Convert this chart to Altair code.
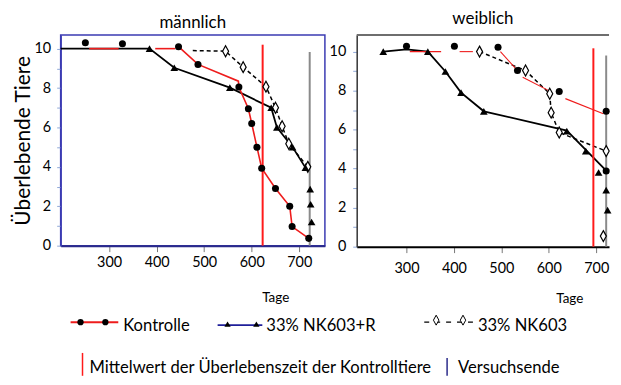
import altair as alt
import pandas as pd

FONT = "Lato"

# ---------------- data: männlich ----------------
m_ctrl_x = [250, 328, 446, 487, 573, 593, 600, 611, 621, 650, 680, 685, 720]
m_ctrl_y = [10.3, 10.25, 10.1, 9.2, 8.05, 6.95, 6.2, 5.0, 3.93, 2.9, 2.0, 0.97, 0.37]
m_ctrl_line_x = [258, 320, 397, 439, 446, 487, 572, 573, 593, 600, 611, 621, 650, 680, 685, 720]
m_ctrl_line_y = [10, 10, 10, 10, 10.1, 9.2, 8.35, 8.05, 6.95, 6.2, 5.0, 3.93, 2.9, 2.0, 0.97, 0.37]
m_ctrl_line_seg = [1, 1, 2, 2, 3, 3, 3, 3, 3, 3, 3, 3, 3, 3, 3, 3]

m_r_x = [385, 437, 554, 641, 653, 686, 713, 723, 724, 726]
m_r_y = [10.0, 9.03, 8.02, 7.0, 6.0, 5.0, 3.96, 2.87, 2.1, 1.2]
m_r_line_x = [198, 385, 437, 554, 641, 653, 686, 713]
m_r_line_y = [10, 10, 9.03, 8.02, 7.0, 6.0, 5.0, 3.96]

m_nk_x = [545, 582, 630, 650, 664, 678, 718]
m_nk_y = [9.87, 9.06, 8.07, 7.0, 6.06, 5.17, 4.0]
m_nk_line_x = [476, 545, 582, 630, 650, 664, 678, 718]
m_nk_line_y = [9.9, 9.87, 9.06, 8.07, 7.0, 6.06, 5.17, 4.0]

m_mean_x, m_mean_top = 623, 10.2
m_end_x, m_end_top = 722, 9.83

# ---------------- data: weiblich ----------------
w_ctrl_x = [300, 401, 493, 534, 622, 721, 721]
w_ctrl_y = [10.27, 10.27, 10.22, 9.03, 7.96, 6.94, 3.88]
w_ctrl_line_x = [307, 373, 412, 440, 498, 534, 545, 600, 635, 715]
w_ctrl_line_y = [10, 10, 10, 10, 10, 9.03, 8.69, 8.0, 7.59, 6.82]
w_ctrl_line_seg = [1, 1, 2, 2, 3, 3, 4, 4, 5, 5]

w_r_x = [251, 345, 382, 415, 463, 638, 678, 705, 721, 724]
w_r_y = [10.0, 10.0, 8.98, 7.9, 6.94, 5.92, 4.9, 3.8, 2.9, 1.87]
w_r_line_x = [251, 300, 345, 382, 415, 463, 638, 721]
w_r_line_y = [10, 10.12, 10, 8.98, 7.9, 6.94, 5.95, 3.9]

w_nk_x = [454, 551, 602, 605, 622, 721, 715]
w_nk_y = [10.0, 9.03, 7.84, 6.87, 5.85, 4.9, 0.54]
w_nk_line_x = [454, 551, 602, 605, 622, 721]
w_nk_line_y = [10.0, 9.03, 7.84, 6.87, 5.85, 4.9]

w_mean_x, w_mean_top = 694, 10.17
w_end_x, w_end_top = 721, 9.8

x_ticks = [300, 400, 500, 600, 700]
y_ticks = list(range(0, 11))

series_labels = ["Kontrolle", "33% NK603+R", "33% NK603"]
ref_labels = ["Mittelwert der Überlebenszeit der Kontrolltiere", "Versuchsende"]

DIAMOND = "M0,-1L0.55,0L0,1L-0.55,0Z"


def line_df(xs, ys, seg=None):
    return pd.DataFrame({"x": xs, "y": ys, "i": list(range(len(xs))),
                         "seg": seg if seg is not None else [1] * len(xs)})


def pts_df(xs, ys):
    return pd.DataFrame({"x": xs, "y": ys})


def panel(title, title_offset, ctrl, ctrl_line, r, r_line, nk, nk_line,
          mean, end, xdom, ydom, w, h, left):
    dom_col = "#2a2a8a" if left else "#000000"
    ydom_col = "#3b3bb3" if left else "#333333"
    xs = alt.Scale(domain=xdom, nice=False, zero=False)
    ys = alt.Scale(domain=ydom, nice=False, zero=False)
    xax = alt.Axis(values=x_ticks, tickSize=6, tickColor="#777777", labelPadding=4 if left else 9,
                   domainColor=dom_col, domainWidth=2, grid=False, labelFontSize=14.5,
                   labelFont=FONT, labelColor="#000", title="Tage", titleFont=FONT,
                   titleFontSize=13.5, titleFontWeight="normal", titleX=216 if left else 214,
                   titleY=52, titleBaseline="middle", titleColor="#000")
    yax = alt.Axis(values=y_ticks, tickSize=4, tickColor="#8fa8d8", labelPadding=6 if left else 7,
                   labelExpr="datum.value % 2 == 0 ? datum.label : ''",
                   domainColor=ydom_col, domainWidth=1.5, grid=False, labelFontSize=14.5,
                   labelFont=FONT, labelColor="#000",
                   title="Überlebende Tiere" if left else None, titleFont=FONT,
                   titleFontSize=21, titleFontWeight="normal", titlePadding=1, titleColor="#000")
    X = alt.X("x:Q", scale=xs, axis=xax)
    Y = alt.Y("y:Q", scale=ys, axis=yax)

    layers = []
    if not left:
        frame = pd.DataFrame({"x": [xdom[0]], "x2": [xdom[1]]})
        layers.append(alt.Chart(frame).mark_rule(color="#6e6e6e", strokeWidth=2)
                      .encode(x=X, x2="x2:Q", y=alt.value(0)))
    layers.append(alt.Chart(r_line).mark_line(color="black", strokeWidth=1.8)
                  .encode(x=X, y=Y, order="i:Q"))
    layers.append(alt.Chart(nk_line).mark_line(color="black", strokeWidth=1.5, strokeDash=[4, 3])
                  .encode(x=X, y=Y, order="i:Q"))
    layers.append(alt.Chart(ctrl_line).mark_line(color="#ee1c1c", strokeWidth=1.6 if left else 1.1)
                  .encode(x=X, y=Y, detail="seg:N", order="i:Q"))
    rules = pd.DataFrame({"x": [mean[0], end[0]], "y": [mean[1], end[1]], "y0": [0, 0],
                          "k": ["mean", "end"]})
    layers.append(alt.Chart(rules).mark_rule(strokeWidth=2).encode(
        x=X, y=Y, y2="y0:Q",
        color=alt.Color("k:N", scale=alt.Scale(domain=["mean", "end"], range=["#ff1a1a", "#8a8a8a"]),
                        legend=None),
        strokeWidth=alt.StrokeWidth("k:N", scale=alt.Scale(domain=["mean", "end"], range=[2, 1.5]),
                                    legend=None)))
    layers.append(alt.Chart(nk).mark_point(shape=DIAMOND, size=121, fill="white", stroke="black",
                                           strokeWidth=1.2, opacity=1, fillOpacity=1)
                  .encode(x=X, y=Y))
    layers.append(alt.Chart(r).mark_point(shape="triangle-up", size=60, filled=True, color="black",
                                          opacity=1).encode(x=X, y=Y))
    layers.append(alt.Chart(ctrl).mark_point(shape="circle", size=50, filled=True, color="black",
                                             opacity=1).encode(x=X, y=Y))
    view = alt.ViewBackground(stroke="#3b3bb3", strokeWidth=1.5) if left else \
        alt.ViewBackground(stroke="transparent")
    return alt.layer(*layers).properties(
        width=w, height=h, view=view,
        title=alt.TitleParams(title, font=FONT, fontSize=17, fontWeight="normal", color="#000",
                              offset=title_offset))


left = panel("männlich", 3,
             pts_df(m_ctrl_x, m_ctrl_y), line_df(m_ctrl_line_x, m_ctrl_line_y, m_ctrl_line_seg),
             pts_df(m_r_x, m_r_y), line_df(m_r_line_x, m_r_line_y),
             pts_df(m_nk_x, m_nk_y), line_df(m_nk_line_x, m_nk_line_y),
             (m_mean_x, m_mean_top), (m_end_x, m_end_top),
             [198, 754], [0, 10.69], 266, 212, True)
right = panel("weiblich", 6,
              pts_df(w_ctrl_x, w_ctrl_y), line_df(w_ctrl_line_x, w_ctrl_line_y, w_ctrl_line_seg),
              pts_df(w_r_x, w_r_y), line_df(w_r_line_x, w_r_line_y),
              pts_df(w_nk_x, w_nk_y), line_df(w_nk_line_x, w_nk_line_y),
              (w_mean_x, w_mean_top), (w_end_x, w_end_top),
              [195, 727], [0, 10.85], 254, 213, False)

# ---------------- custom legend (layout in page pixels) ----------------
OX, OY = 60, 306   # page position of legend chart origin (aligned with left plot)
LW, LH = 545, 70


def lx(v):
    return [a - OX for a in v]


def ly(v):
    return [a - OY for a in v]


LX = alt.Scale(domain=[0, LW], nice=False, zero=False)
LY = alt.Scale(domain=[0, LH], nice=False, zero=False, reverse=True)


def ex(f="x"):
    return alt.X(f + ":Q", scale=LX, axis=None)


def ey(f="y"):
    return alt.Y(f + ":Q", scale=LY, axis=None)


leg_red_line = pd.DataFrame({"x": lx([70, 118]), "y": ly([322, 322])})
leg_blue_line = pd.DataFrame({"x": lx([218, 263]), "y": ly([325, 325])})
leg_dash_line = pd.DataFrame({"x": lx([426, 476]), "y": ly([322, 322])})
leg_circ = pd.DataFrame({"x": lx([80, 105]), "y": ly([322, 322])})
leg_tri = pd.DataFrame({"x": lx([228, 257]), "y": ly([324, 324])})
leg_dia = pd.DataFrame({"x": lx([438, 465]), "y": ly([320, 320])})
leg_text = pd.DataFrame({"x": lx([123, 267, 480, 89, 460]),
                         "y": ly([331, 331, 331, 373, 373]),
                         "t": series_labels + ref_labels})
leg_bars = pd.DataFrame({"x": lx([82, 449]), "y": ly([353, 358]), "y2": ly([376, 376]),
                         "k": ["mean", "end"]})

legend = alt.layer(
    alt.Chart(leg_red_line).mark_line(color="#ee1c1c", strokeWidth=2).encode(x=ex(), y=ey()),
    alt.Chart(leg_blue_line).mark_line(color="#1f1f9a", strokeWidth=2).encode(x=ex(), y=ey()),
    alt.Chart(leg_dash_line).mark_line(color="black", strokeWidth=1.3, strokeDash=[5, 6])
    .encode(x=ex(), y=ey()),
    alt.Chart(leg_circ).mark_point(shape="circle", size=40, filled=True, color="black", opacity=1)
    .encode(x=ex(), y=ey()),
    alt.Chart(leg_tri).mark_point(shape="triangle-up", size=40, filled=True, color="black", opacity=1)
    .encode(x=ex(), y=ey()),
    alt.Chart(leg_dia).mark_point(shape=DIAMOND, size=100, fill="white", stroke="black",
                                  strokeWidth=1, opacity=1, fillOpacity=1).encode(x=ex(), y=ey()),
    alt.Chart(leg_bars).mark_rule(strokeWidth=1.5).encode(
        x=ex(), y=ey(), y2="y2:Q",
        color=alt.Color("k:N", scale=alt.Scale(domain=["mean", "end"], range=["#ff1a1a", "#2a2a8a"]),
                        legend=None)),
    alt.Chart(leg_text).mark_text(align="left", baseline="alphabetic", font=FONT, fontSize=16.7,
                                  color="#000").encode(x=ex(), y=ey(), text="t:N"),
).properties(width=LW, height=LH, view=alt.ViewBackground(stroke="transparent"))

chart = alt.vconcat(
    alt.hconcat(left, right, spacing=2),
    legend, spacing=0
).properties(padding={"left": 3, "top": 0, "right": 0, "bottom": 0}).configure(
    font=FONT
).resolve_scale(color="independent", strokeWidth="independent")

chart.save("out.html", embed_options={"renderer": "svg", "actions": False})
